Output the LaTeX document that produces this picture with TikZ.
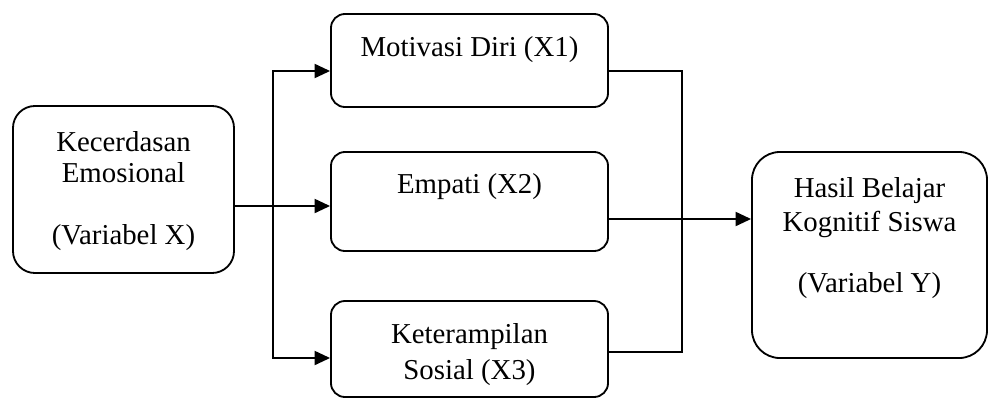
\documentclass[tikz,border=0pt]{standalone}
\usepackage{fontspec}
\setmainfont{Liberation Serif}
\usetikzlibrary{arrows.meta}
\tikzset{>={Triangle[length=11pt,width=10pt]}}
\tikzset{kotak/.style={draw, line width=1.3pt, inner sep=0pt, font=\fontsize{20.5}{22}\selectfont}}
\newcommand{\isikotak}[4]{\parbox[c][#2][t]{#1}{\centering\vspace*{#3}\strut #4}}

\begin{document}
\begin{tikzpicture}[x=0.025cm,y=-0.025cm,line width=1.3pt]
	\useasboundingbox (0,0) rectangle (988,397);
	\node[kotak,rounded corners=0.55cm] (kx) at (123.5,189.5) {\isikotak{5.525cm}{4.175cm}{17.3pt}{Kecerdasan\\Emosional\\[22pt](Variabel X)}};
	\node[kotak,rounded corners=0.35cm] (x1) at (469.5,60.5) {\isikotak{6.925cm}{2.325cm}{14.5pt}{Motivasi Diri (X1)}};
	\node[kotak,rounded corners=0.35cm] (x2) at (469.5,201.5) {\isikotak{6.925cm}{2.475cm}{13.8pt}{Empati (X2)}};
	\node[kotak,rounded corners=0.35cm] (x3) at (469.5,349) {\isikotak{6.925cm}{2.4cm}{14.5pt}{Keterampilan\\[4pt]Sosial (X3)}};
	\node[kotak,rounded corners=0.7cm] (hasil) at (869.5,255) {\isikotak{5.875cm}{5.15cm}{17.3pt}{Hasil Belajar\\[2pt]Kognitif Siswa\\[21pt](Variabel Y)}};
	\coordinate (jl) at (273,206);
	\coordinate (ja) at (273,71);
	\coordinate (jb) at (273,358);
	\coordinate (ra) at (682,71);
	\coordinate (rb) at (682,352);
	\coordinate (jr) at (682,219);
	\draw[->] (jl -| kx.east) -- (jl -| x2.west);
	\draw[<->] (jb -| x3.west) -- (jb) -- (ja) -- (ja -| x1.west);
	\draw (ra -| x1.east) -- (ra) -- (rb) -- (rb -| x3.east);
	\draw[->] (jr -| x2.east) -- (jr -| hasil.west);
\end{tikzpicture}
\end{document}
